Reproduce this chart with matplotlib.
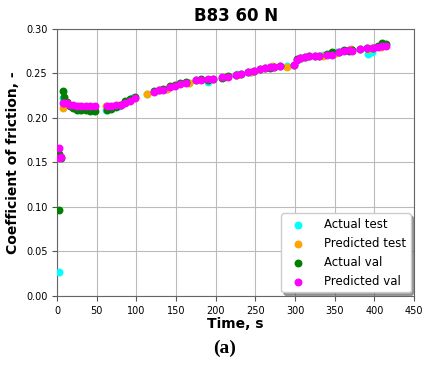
import matplotlib.pyplot as plt
import numpy as np


# test set (time, actual, predicted)
test_t = [2, 8, 13, 28, 46, 62, 78, 95, 113, 138, 166, 190, 211, 227, 245,
          271, 290, 308, 335, 352, 370, 392, 397, 408]
test_actual = [0.027, 0.222, 0.216, 0.209, 0.208, 0.209, 0.213, 0.222, 0.227,
               0.233, 0.239, 0.240, 0.246, 0.249, 0.252, 0.257, 0.258, 0.267,
               0.271, 0.274, 0.276, 0.272, 0.274, 0.282]
test_pred = [0.157, 0.211, 0.216, 0.213, 0.212, 0.213, 0.214, 0.221, 0.227,
             0.233, 0.239, 0.243, 0.246, 0.248, 0.252, 0.258, 0.257, 0.267,
             0.270, 0.273, 0.277, 0.277, 0.278, 0.280]

# validation set (time, actual, predicted)
val_t = [2, 3, 5, 7, 9, 12, 16, 20, 25, 30, 36, 42, 48, 63, 68, 74, 80, 86,
         92, 98, 122, 128, 134, 142, 148, 155, 162, 175, 182, 190, 196, 208,
         215, 225, 232, 240, 248, 256, 262, 268, 274, 281, 298, 302, 306, 312,
         318, 325, 330, 340, 347, 355, 362, 368, 372, 382, 390, 398, 405, 410,
         414]
val_actual = [0.097, 0.160, 0.155, 0.230, 0.224, 0.218, 0.213, 0.211, 0.209,
              0.209, 0.209, 0.208, 0.208, 0.209, 0.210, 0.212, 0.215, 0.219,
              0.221, 0.223, 0.230, 0.231, 0.232, 0.236, 0.237, 0.239, 0.240,
              0.243, 0.244, 0.243, 0.244, 0.245, 0.247, 0.248, 0.249, 0.251,
              0.253, 0.255, 0.256, 0.256, 0.257, 0.258, 0.259, 0.266, 0.267,
              0.268, 0.269, 0.270, 0.269, 0.272, 0.274, 0.274, 0.276, 0.275,
              0.276, 0.277, 0.279, 0.279, 0.281, 0.284, 0.283]
val_pred = [0.155, 0.166, 0.156, 0.217, 0.217, 0.217, 0.215, 0.214, 0.213,
            0.213, 0.213, 0.213, 0.213, 0.213, 0.213, 0.214, 0.215, 0.217,
            0.219, 0.222, 0.229, 0.231, 0.231, 0.235, 0.236, 0.238, 0.239,
            0.242, 0.243, 0.244, 0.244, 0.246, 0.246, 0.248, 0.249, 0.251,
            0.253, 0.255, 0.256, 0.257, 0.257, 0.258, 0.259, 0.265, 0.267,
            0.268, 0.269, 0.270, 0.270, 0.271, 0.271, 0.274, 0.275, 0.276,
            0.275, 0.277, 0.278, 0.279, 0.280, 0.281, 0.281]


fig = plt.figure(figsize=(4.23, 3.65), dpi=100)
ax = fig.add_axes([0.135, 0.189, 0.844, 0.732])

ax.scatter(test_t, test_actual, s=22, color='cyan', label='Actual test', zorder=3)
ax.scatter(test_t, test_pred, s=22, color='orange', label='Predicted test', zorder=3)
ax.scatter(val_t, val_actual, s=22, color='green', label='Actual val', zorder=3)
ax.scatter(val_t, val_pred, s=22, color='magenta', label='Predicted val', zorder=3)

ax.set_xlim(0, 450)
ax.set_ylim(0, 0.30)
ax.set_xticks(np.arange(0, 451, 50))
ax.set_yticks(np.arange(0, 0.301, 0.05))
ax.tick_params(labelsize=7, color='#555555')
ax.grid(True, color='#bbbbbb', linewidth=0.8)
for sp in ax.spines.values():
    sp.set_color('#666666')

ax.set_title('B83 60 N', fontsize=12, fontweight='bold')
ax.set_xlabel('Time, s', fontsize=10, fontweight='bold', labelpad=1)
ax.set_ylabel('Coefficient of friction, -', fontsize=10, fontweight='bold')
ax.legend(loc='lower right', fontsize=8.5, shadow=True, framealpha=1,
          borderaxespad=0.3, handletextpad=1.2)

fig.text(0.532, 0.033, '(a)', fontsize=14, fontweight='bold',
         family='Liberation Serif', ha='center')

fig.savefig('out.png', dpi=100)
